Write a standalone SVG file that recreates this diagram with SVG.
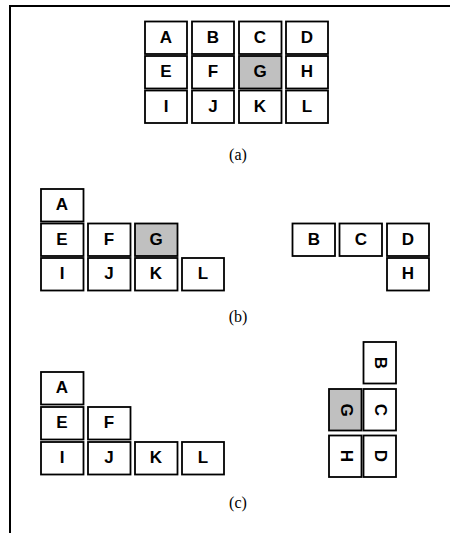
<svg xmlns="http://www.w3.org/2000/svg" width="450" height="533" viewBox="0 0 450 533">
<style>
.b{fill:#fff;stroke:#000;stroke-width:1.8}
.g{fill:#c0c0c0;stroke:#000;stroke-width:1.8}
.t{font-family:"Liberation Sans",Arial,sans-serif;font-weight:bold;font-size:17px;text-anchor:middle;dominant-baseline:central;fill:#000}
.cap{font-family:"Liberation Serif","Times New Roman",serif;font-size:16px;text-anchor:middle;fill:#000}
</style>
<rect x="0" y="0" width="450" height="533" fill="#fff"/>
<path d="M10 533 V6 H450" fill="none" stroke="#000" stroke-width="2"/>
<g id="a">
<g id="a-A"><rect class="b" x="145" y="21.5" width="42" height="32.5"/><text class="t" x="166" y="37">A</text></g>
<g id="a-B"><rect class="b" x="192" y="21.5" width="42" height="32.5"/><text class="t" x="213" y="37">B</text></g>
<g id="a-C"><rect class="b" x="239" y="21.5" width="42.5" height="32.5"/><text class="t" x="260" y="37">C</text></g>
<g id="a-D"><rect class="b" x="286" y="21.5" width="42" height="32.5"/><text class="t" x="307" y="37">D</text></g>
<g id="a-E"><rect class="b" x="145" y="56" width="42" height="32.5"/><text class="t" x="166" y="71.5">E</text></g>
<g id="a-F"><rect class="b" x="192" y="56" width="42" height="32.5"/><text class="t" x="213" y="71.5">F</text></g>
<g id="a-G"><rect class="g" x="239" y="56" width="42.5" height="32.5"/><text class="t" x="260" y="71.5">G</text></g>
<g id="a-H"><rect class="b" x="286" y="56" width="42" height="32.5"/><text class="t" x="307" y="71.5">H</text></g>
<g id="a-I"><rect class="b" x="145" y="90.5" width="42" height="32.5"/><text class="t" x="166" y="106">I</text></g>
<g id="a-J"><rect class="b" x="192" y="90.5" width="42" height="32.5"/><text class="t" x="213" y="106">J</text></g>
<g id="a-K"><rect class="b" x="239" y="90.5" width="42.5" height="32.5"/><text class="t" x="260" y="106">K</text></g>
<g id="a-L"><rect class="b" x="286" y="90.5" width="42" height="32.5"/><text class="t" x="307" y="106">L</text></g>
<text class="cap" x="238" y="160">(a)</text>
</g>
<g id="b">
<g id="b-A"><rect class="b" x="41" y="189" width="42.5" height="32.5"/><text class="t" x="62" y="204.5">A</text></g>
<g id="b-E"><rect class="b" x="41" y="223.5" width="42.5" height="32.5"/><text class="t" x="62" y="239">E</text></g>
<g id="b-F"><rect class="b" x="88" y="223.5" width="42.5" height="32.5"/><text class="t" x="109" y="239">F</text></g>
<g id="b-G"><rect class="g" x="135" y="223.5" width="42.5" height="32.5"/><text class="t" x="156" y="239">G</text></g>
<g id="b-I"><rect class="b" x="41" y="258" width="42.5" height="32.5"/><text class="t" x="62" y="273.5">I</text></g>
<g id="b-J"><rect class="b" x="88" y="258" width="42.5" height="32.5"/><text class="t" x="109" y="273.5">J</text></g>
<g id="b-K"><rect class="b" x="135" y="258" width="42.5" height="32.5"/><text class="t" x="156" y="273.5">K</text></g>
<g id="b-L"><rect class="b" x="182" y="258" width="42" height="32.5"/><text class="t" x="203" y="273.5">L</text></g>
<g id="b-B"><rect class="b" x="292.5" y="223.5" width="42.5" height="32.5"/><text class="t" x="314" y="239">B</text></g>
<g id="b-C"><rect class="b" x="339.5" y="223.5" width="42.5" height="32.5"/><text class="t" x="361" y="239">C</text></g>
<g id="b-D"><rect class="b" x="387" y="223.5" width="42" height="32.5"/><text class="t" x="408" y="239">D</text></g>
<g id="b-H"><rect class="b" x="387" y="258" width="42" height="32.5"/><text class="t" x="408" y="273.5">H</text></g>
<text class="cap" x="238" y="322">(b)</text>
</g>
<g id="c">
<g id="c-A"><rect class="b" x="41" y="372" width="42.5" height="32.5"/><text class="t" x="62" y="387.5">A</text></g>
<g id="c-E"><rect class="b" x="41" y="407" width="42.5" height="32.5"/><text class="t" x="62" y="422.5">E</text></g>
<g id="c-F"><rect class="b" x="88" y="407" width="42.5" height="32.5"/><text class="t" x="109" y="422.5">F</text></g>
<g id="c-I"><rect class="b" x="41" y="442" width="42.5" height="32.5"/><text class="t" x="62" y="457.5">I</text></g>
<g id="c-J"><rect class="b" x="88" y="442" width="42.5" height="32.5"/><text class="t" x="109" y="457.5">J</text></g>
<g id="c-K"><rect class="b" x="135" y="442" width="42.5" height="32.5"/><text class="t" x="156" y="457.5">K</text></g>
<g id="c-L"><rect class="b" x="182" y="442" width="42" height="32.5"/><text class="t" x="203" y="457.5">L</text></g>
<g id="c-B"><rect class="b" x="363.5" y="342" width="32.5" height="41.5"/><text class="t" transform="translate(380.5,363) rotate(90)">B</text></g>
<g id="c-C"><rect class="b" x="363.5" y="389" width="32.5" height="41.5"/><text class="t" transform="translate(380.5,410) rotate(90)">C</text></g>
<g id="c-D"><rect class="b" x="363.5" y="435.5" width="32.5" height="41.5"/><text class="t" transform="translate(380.5,456) rotate(90)">D</text></g>
<g id="c-G"><rect class="g" x="329" y="389" width="32.5" height="41.5"/><text class="t" transform="translate(346,410) rotate(90)">G</text></g>
<g id="c-H"><rect class="b" x="329" y="435.5" width="32.5" height="41.5"/><text class="t" transform="translate(346,456) rotate(90)">H</text></g>
<text class="cap" x="238" y="508">(c)</text>
</g>
</svg>
